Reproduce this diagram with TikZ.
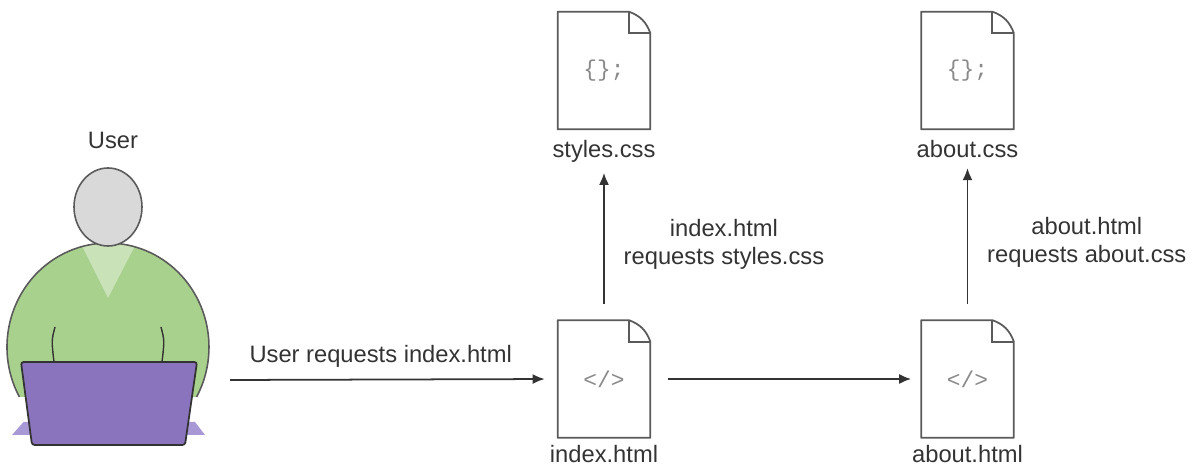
\documentclass[tikz,border=0pt]{standalone}
\usepackage{fontspec}
\setmainfont{Liberation Sans}
\setmonofont{Liberation Mono}
\usetikzlibrary{arrows.meta,positioning}

\definecolor{ink}{HTML}{333333}
\definecolor{edge}{HTML}{5A5A5A}
\definecolor{codegray}{HTML}{8A8A8A}
\definecolor{shirt}{HTML}{A9D18E}
\definecolor{shirtlight}{HTML}{C9E2B8}
\definecolor{headgray}{HTML}{D9D9D9}
\definecolor{laptop}{HTML}{8B74BE}
\definecolor{laptopbase}{HTML}{A898D6}

\tikzset{
  docbox/.style={minimum width=1.84cm, minimum height=2.34cm, inner sep=0pt,
    font=\ttfamily\fontsize{13}{13}\selectfont, text=codegray},
  arr/.style={draw=ink, line width=1pt, -{Latex[length=2.4mm,width=2mm]}},
}
\newcommand{\fold}{0.43cm}

\begin{document}
\begin{tikzpicture}[font=\fontsize{13.5}{16}\selectfont, text=ink]
    \useasboundingbox (0,0) rectangle (23.84,9.36);

    % User at the laptop
    \node (user-lbl) at (2.26,6.56) {User};
    \fill[shirt] (0.388,1.42) arc[start angle=208.7, end angle=-28.7, x radius=2.02, y radius=2.08] -- cycle;
    \begin{scope}
        \clip (0.388,1.42) arc[start angle=208.7, end angle=-28.7, x radius=2.02, y radius=2.08] -- cycle;
        \fill[shirtlight] (1.56,4.6) -- (2.78,4.6) -- (2.16,3.40) -- cycle;
    \end{scope}
    \draw[edge, line width=0.9pt] (0.388,1.42) arc[start angle=208.7, end angle=-28.7, x radius=2.02, y radius=2.08];
    \draw[edge, fill=headgray, line width=0.9pt] (2.16,5.22) ellipse[x radius=0.68, y radius=0.78];
    \draw[ink, line width=0.8pt] (1.10,2.82) .. controls (1.03,2.55) .. (1.08,2.12);
    \draw[ink, line width=0.8pt] (3.22,2.82) .. controls (3.29,2.55) .. (3.24,2.12);
    \fill[laptopbase] (0.47,0.92) -- (3.90,0.92) -- (4.10,0.66) -- (0.24,0.66) -- cycle;
    \draw[ink, fill=laptop, line width=1pt, rounded corners=1.5pt]
        (0.42,2.12) -- (3.94,2.12) -- (3.70,0.46) -- (0.64,0.46) -- cycle;
    \coordinate (user-out) at (4.60,1.76);

    % Files
    \node[docbox] (styles) at (12.08,7.95) {\{\};};
    \node[docbox] (about-css) at (19.35,7.95) {\{\};};
    \node[docbox] (index) at (12.08,1.78) {</>};
    \node[docbox] (about) at (19.35,1.78) {</>};
    \foreach \d in {styles,about-css,index,about} {
        \draw[edge, line width=1pt, line join=round]
            (\d.south west) -- (\d.north west) -- ([xshift=-\fold]\d.north east)
            to[bend left=25] ([yshift=-\fold]\d.north east) -- (\d.south east) -- cycle;
        \draw[edge, line width=1pt] ([xshift=-\fold]\d.north east) |- ([yshift=-\fold]\d.north east);
    }
    \node[below=0.1cm of styles] (styles-lbl) {styles.css};
    \node[below=0.1cm of about-css] (about-css-lbl) {about.css};
    \node[below=0.02cm of index] (index-lbl) {index.html};
    \node[below=0.02cm of about] (about-lbl) {about.html};

    % Requests
    \draw[arr, shorten >=0.26cm] (user-out) -- (index.west)
        node[pos=0.46, above=0.1cm] (req-index) {User requests index.html};
    \draw[arr, shorten <=0.36cm, shorten >=0.2cm] (index.east) -- (about.west);
    \draw[arr, shorten <=0.33cm, shorten >=0.08cm] (index.north) -- (styles-lbl.south)
        node[midway, right=0.26cm, align=center] (req-styles) {index.html\\requests styles.css};
    \draw[arr, shorten <=0.33cm, shorten >=0.08cm] (about.north) -- (about-css-lbl.south)
        node[midway, right=0.26cm, align=center] (req-about) {about.html\\requests about.css};
\end{tikzpicture}
\end{document}
